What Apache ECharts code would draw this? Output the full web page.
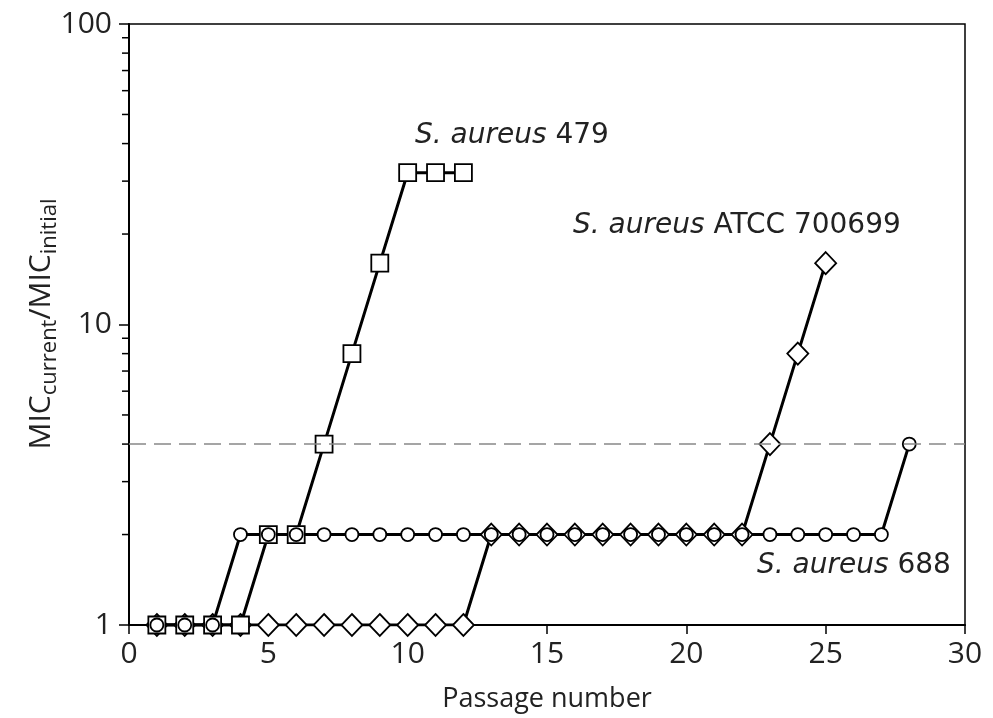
<!DOCTYPE html>
<html><head><meta charset="utf-8">
<script src="https://cdn.jsdelivr.net/npm/echarts@6/dist/echarts.min.js"></script>
<style>html,body{margin:0;padding:0;background:#fff}#c{width:993px;height:718px}</style>
</head><body><div id="c"></div>
<script>
// Data
var passage479 = [1,2,3,4,5,6,7,8,9,10,11,12];
var mic479 =     [1,1,1,1,2,2,4,8,16,32,32,32];
var passageATCC = [1,2,3,4,5,6,7,8,9,10,11,12,13,14,15,16,17,18,19,20,21,22,23,24,25];
var micATCC =     [1,1,1,1,1,1,1,1,1,1,1,1,2,2,2,2,2,2,2,2,2,2,4,8,16];
var passage688 = [1,2,3,4,5,6,7,8,9,10,11,12,13,14,15,16,17,18,19,20,21,22,23,24,25,26,27,28];
var mic688 =     [1,1,1,2,2,2,2,2,2,2,2,2,2,2,2,2,2,2,2,2,2,2,2,2,2,2,2,4];
var thresholdValue = 4;
var yTickLabels = ['1','10','100'];
var minorTickValues = [2,3,4,5,6,7,8,9,20,30,40,50,60,70,80,90];

function pairs(xs, ys){ return xs.map(function(x,i){ return [x, ys[i]]; }); }

var FONT = '"Open Sans", "Noto Sans", sans-serif';
var LFONT = '"DejaVu Sans", sans-serif';
var chart = echarts.init(document.getElementById('c'), null, {renderer:'canvas'});

var markerStyle = {color:'#fff', borderColor:'#000', borderWidth:1.8};
var lineStyle = {color:'#000', width:3};

var option = {
  animation:false,
  backgroundColor:'#fff',
  grid:{left:129, right:28, top:24, bottom:92, show:true, borderColor:'#000', borderWidth:1.5, backgroundColor:'transparent'},
  xAxis:{
    type:'value', min:0, max:30, interval:5,
    name:'Passage number', nameLocation:'middle', nameGap:61,
    nameTextStyle:{fontFamily:FONT, fontSize:27, color:'#222'},
    axisLine:{lineStyle:{color:'#000', width:2}},
    axisTick:{inside:false, length:9, lineStyle:{color:'#000', width:1.5}},
    axisLabel:{fontFamily:FONT, fontSize:30, color:'#222', margin:14},
    splitLine:{show:false}
  },
  yAxis:{
    type:'log', logBase:10, min:1, max:100,
    axisLine:{lineStyle:{color:'#000', width:2}},
    axisTick:{inside:false, length:10, lineStyle:{color:'#000', width:1.5}},
    axisLabel:{fontFamily:FONT, fontSize:30, color:'#222', margin:17,
      formatter:function(v){ var i = Math.round(Math.log10(v)); return yTickLabels[i] !== undefined ? yTickLabels[i] : ''; }},
    splitLine:{show:false}
  },
  series:[
    {
      name:'S. aureus ATCC 700699', type:'line', data:pairs(passageATCC, micATCC),
      symbol:'diamond', symbolSize:[21,22], itemStyle:markerStyle, lineStyle:lineStyle,
      markLine:{silent:true, symbol:'none', label:{show:false},
        lineStyle:{color:'#888', type:[17,8], width:1.5},
        data:[{yAxis:thresholdValue}]}
    },
    {
      name:'S. aureus 479', type:'line', data:pairs(passage479, mic479),
      symbol:'rect', symbolSize:17, itemStyle:markerStyle, lineStyle:lineStyle
    },
    {
      name:'S. aureus 688', type:'line', data:pairs(passage688, mic688),
      symbol:'circle', symbolSize:13, itemStyle:markerStyle, lineStyle:lineStyle
    }
  ]
};
chart.setOption(option);

// minor ticks on log axis (2..9, 20..90), positioned via the axis scale
var gx = chart.convertToPixel({xAxisIndex:0}, 0);
var graphics = minorTickValues.map(function(v){
  var py = chart.convertToPixel({yAxisIndex:0}, v);
  return {type:'line', shape:{x1:gx-7, y1:py, x2:gx, y2:py}, style:{stroke:'#000', lineWidth:1.5}, silent:true};
});

function label(x, yc, num){
  return {type:'text', x:x, y:yc, silent:true,
    style:{text:'{i|S. aureus}{n|\u00a0'+num+'}', verticalAlign:'middle',
      rich:{i:{fontFamily:LFONT, fontSize:28, fontStyle:'italic', fill:'#222'}, n:{fontFamily:LFONT, fontSize:28, fill:'#222'}}}};
}
graphics.push(label(415, 136, '479'));
graphics.push(label(573, 226, 'ATCC 700699'));
graphics.push(label(757, 566, '688'));

graphics.push({
  type:'text', x:41, y:324, rotation:Math.PI/2, silent:true,
  style:{
    text:'{m|MIC}{s|current}{m|/MIC}{s|initial}',
    align:'center', verticalAlign:'middle',
    rich:{
      m:{fontFamily:FONT, fontSize:30, fill:'#222', lineHeight:40, verticalAlign:'middle'},
      s:{fontFamily:FONT, fontSize:22, fill:'#222', lineHeight:40, verticalAlign:'bottom', padding:[12,0,0,0]}
    }
  }
});

chart.setOption({graphic:graphics});
</script></body></html>
